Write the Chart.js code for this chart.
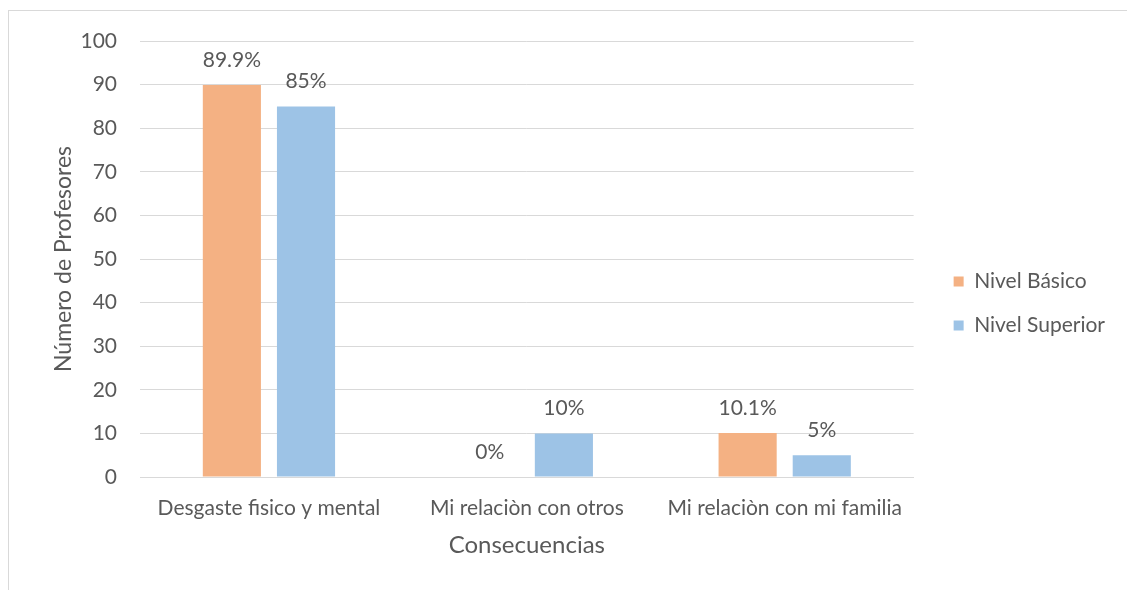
<!DOCTYPE html>
<html lang="es">
<head>
<meta charset="utf-8">
<title>Consecuencias por nivel</title>
<script src="https://cdn.jsdelivr.net/npm/chart.js@4/dist/chart.umd.min.js"></script>
<style>
    html, body { margin: 0; padding: 0; background: #fff; overflow: hidden; }
    #wrap { position: relative; width: 1127px; height: 590px; }
    #frame { position: absolute; left: 8px; top: 10px; width: 1200px; height: 700px; border: 1px solid #d9d9d9; box-sizing: border-box; }
    #chart { position: absolute; left: 0; top: 0; }
</style>
</head>
<body>
<div id="wrap">
    <div id="frame"></div>
    <canvas id="chart" width="1127" height="590"></canvas>
</div>
<script>
// categories and series
const categories = ['Desgaste fisico y mental', 'Mi relaciòn con otros', 'Mi relaciòn con mi familia'];
const nivelBasico = [89.9, 0, 10.1];
const nivelSuperior = [85, 10, 5];
const yTicks = [0, 10, 20, 30, 40, 50, 60, 70, 80, 90, 100];

const textColor = '#595959';
const gridColor = '#d9d9d9';
const fontFamily = 'Lato, "Open Sans", sans-serif';

// value labels drawn above every bar
const barLabels = {
    id: 'barLabels',
    afterDatasetsDraw(chart) {
        const ctx = chart.ctx;
        ctx.save();
        ctx.font = '21px ' + fontFamily;
        ctx.fillStyle = textColor;
        ctx.textAlign = 'center';
        ctx.textBaseline = 'alphabetic';
        chart.data.datasets.forEach((ds, i) => {
            chart.getDatasetMeta(i).data.forEach((bar, j) => {
                ctx.fillText(ds.data[j] + '%', bar.x, bar.y - 18);
            });
        });
        ctx.restore();
    }
};

// nudge the legend block to sit right of the plot
const legendOffset = {
    id: 'legendOffset',
    afterLayout(chart) {
        const lg = chart.legend;
        if (!lg) return;
        const dx = 17, dy = -12;
        lg.left += dx; lg.right += dx;
        lg.top += dy; lg.bottom += dy;
    }
};

new Chart(document.getElementById('chart'), {
    type: 'bar',
    data: {
        labels: categories,
        datasets: [
            {
                label: 'Nivel Básico',
                data: nivelBasico,
                backgroundColor: '#f4b183'
            },
            {
                label: 'Nivel Superior',
                data: nivelSuperior,
                backgroundColor: '#9dc3e6'
            }
        ]
    },
    options: {
        responsive: false,
        animation: false,
        categoryPercentage: 0.575,
        barPercentage: 0.784,
        layout: {
            padding: { left: 0, top: 41, right: 29, bottom: 0 }
        },
        plugins: {
            tooltip: { enabled: false },
            legend: {
                position: 'right',
                align: 'center',
                labels: {
                    boxWidth: 10,
                    boxHeight: 10,
                    padding: 23,
                    color: textColor,
                    font: { family: fontFamily, size: 21 }
                }
            }
        },
        scales: {
            x: {
                grid: { display: false, drawTicks: false },
                border: { color: gridColor },
                ticks: {
                    color: textColor,
                    padding: 19,
                    maxRotation: 0,
                    font: { family: fontFamily, size: 21 }
                },
                title: {
                    display: true,
                    text: 'Consecuencias',
                    color: textColor,
                    padding: { top: 0, bottom: 30 },
                    font: { family: fontFamily, size: 24 }
                },
                afterFit(scale) { scale.height = 113; }
            },
            y: {
                min: 0,
                max: 100,
                afterBuildTicks(scale) {
                    scale.ticks = yTicks.map(v => ({ value: v }));
                },
                grid: { color: gridColor, drawTicks: false },
                border: { display: false },
                ticks: {
                    color: textColor,
                    padding: 23,
                    font: { family: fontFamily, size: 21 }
                },
                title: {
                    display: true,
                    text: 'Número de Profesores',
                    color: textColor,
                    padding: { top: 50, bottom: 0 },
                    font: { family: fontFamily, size: 23 }
                },
                afterFit(scale) { scale.width = 140; }
            }
        }
    },
    plugins: [barLabels, legendOffset]
});
</script>
</body>
</html>
